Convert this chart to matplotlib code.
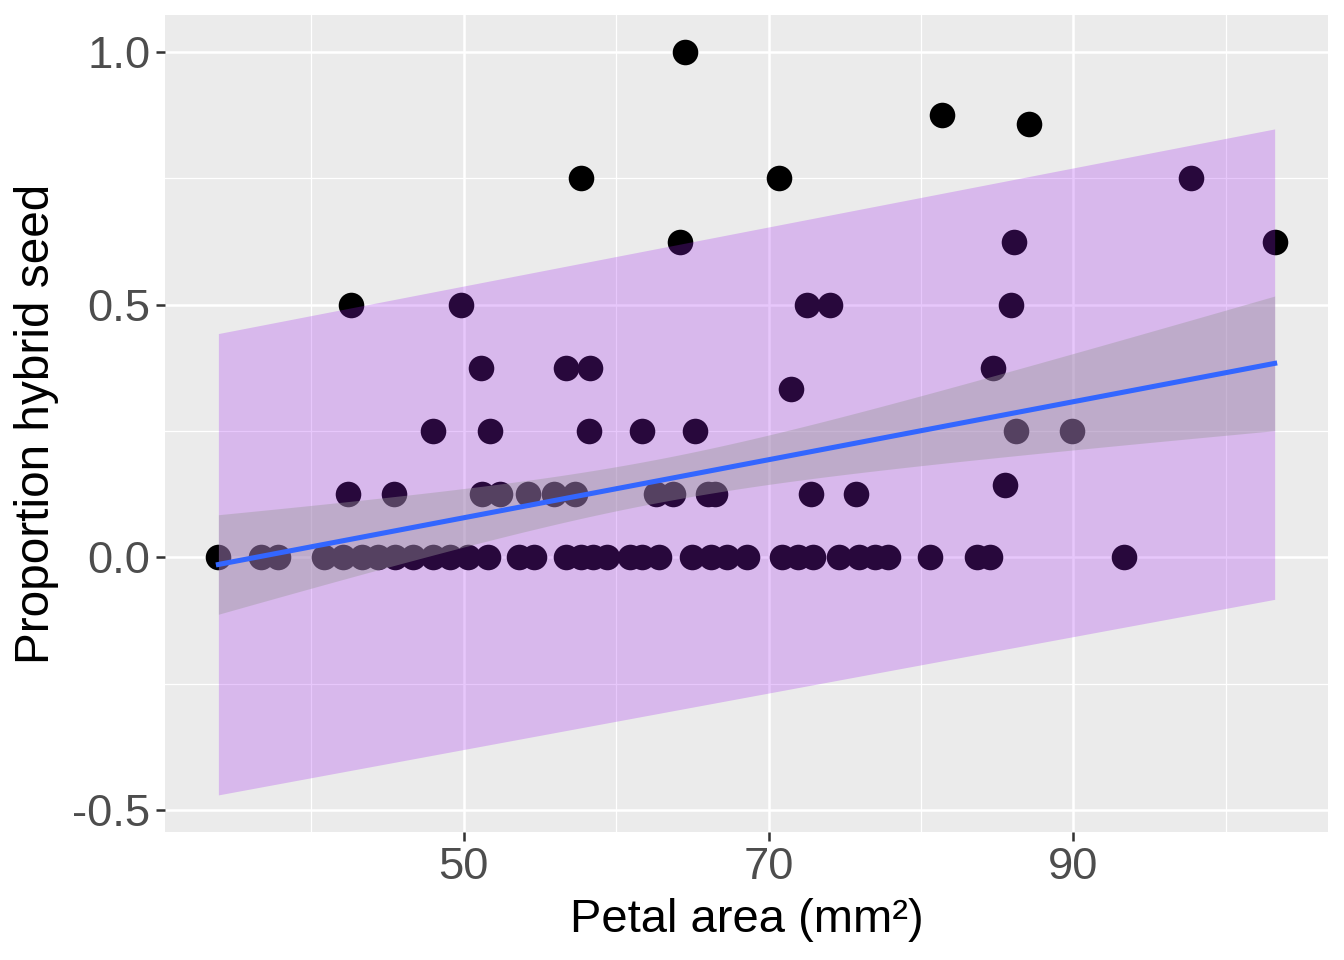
import numpy as np
import matplotlib.pyplot as plt

plt.rcParams['font.family'] = ['Liberation Sans', 'DejaVu Sans']

# petal area (mm2) and proportion hybrid seed, read row by row
area_0 = [33.9, 36.7, 37.8, 40.8, 42.1, 43.3, 44.4, 45.5, 46.7, 48.0, 49.1, 50.3, 51.6,
          53.6, 54.6, 56.7, 57.7, 58.5, 59.4, 60.9, 61.7, 62.8, 65.0, 66.2, 67.3, 68.6,
          70.9, 71.9, 72.9, 74.6, 75.9, 77.0, 77.8, 80.6, 83.7, 84.5, 93.3]
area_125 = [42.4, 45.4, 51.2, 52.4, 54.2, 55.9, 57.3, 62.6, 63.7, 66.0, 66.5, 72.8, 75.7]
area_143 = [85.5]
area_25 = [48.0, 51.7, 58.2, 61.7, 65.2, 86.2, 89.9]
area_333 = [71.5]
area_375 = [51.1, 56.7, 58.3, 84.7]
area_5 = [42.6, 49.8, 72.5, 74.0, 85.9]
area_625 = [64.2, 86.1, 103.2]
area_75 = [57.7, 70.7, 97.7]
area_857 = [87.1]
area_875 = [81.4]
area_1 = [64.5]

rows = [(0.0, area_0), (0.125, area_125), (1/7, area_143), (0.25, area_25),
        (1/3, area_333), (0.375, area_375), (0.5, area_5), (0.625, area_625),
        (0.75, area_75), (6/7, area_857), (0.875, area_875), (1.0, area_1)]

# prediction band (purple ribbon) at the two ends of the data
band_lower = [-0.470, -0.083]
band_upper = [0.443, 0.848]

# fitted line at the two ends, and its confidence band (half-widths)
fit_y = [-0.014, 0.384]
ci_xmid = 62.5
ci_hw_min = 0.043
ci_hw_left = 0.0985

x = np.array([a for p, r in rows for a in r])
y = np.array([p for p, r in rows for a in r])

x0, x1 = x.min(), x.max()
xs = np.linspace(x0, x1, 100)
fit = np.interp(xs, [x0, x1], fit_y)
c = (ci_hw_left ** 2 - ci_hw_min ** 2) / (ci_xmid - x0) ** 2
hw = np.sqrt(ci_hw_min ** 2 + c * (xs - ci_xmid) ** 2)

fig, ax = plt.subplots(figsize=(7, 5), dpi=192)
fig.subplots_adjust(left=0.1228, right=0.9881, top=0.9844, bottom=0.1333)
ax.set_facecolor('#ebebeb')
ax.set_axisbelow(True)

ax.scatter(x, y, s=92, color='black', linewidths=0, zorder=2)
ax.fill_between([x0, x1], band_lower, band_upper, color='#a020f0', alpha=0.25,
                linewidth=0, zorder=3)
ax.fill_between(xs, fit - hw, fit + hw, color='#999999', alpha=0.4, linewidth=0, zorder=4)
ax.plot(xs, fit, color='#3366ff', linewidth=1.9, zorder=5)

ax.set_xlim(30.4, 106.7)
ax.set_ylim(-0.5435, 1.0735)
ax.set_xticks([50, 70, 90])
ax.set_xticks([40, 60, 80, 100], minor=True)
ax.set_yticks([-0.5, 0.0, 0.5, 1.0])
ax.set_yticklabels(['-0.5', '0.0', '0.5', '1.0'])
ax.set_yticks([-0.25, 0.25, 0.75], minor=True)
ax.grid(which='major', color='white', linewidth=0.95)
ax.grid(which='minor', color='white', linewidth=0.47)
for sp in ax.spines.values():
    sp.set_visible(False)
ax.tick_params(which='major', length=3.5, width=0.95, color='#333333', labelsize=17,
               labelcolor='#4d4d4d', pad=2)
ax.tick_params(which='minor', length=0)

ax.set_xlabel('Petal area (mm²)', fontsize=17.7, labelpad=4)
ax.set_ylabel('Proportion hybrid seed', fontsize=17.9, labelpad=5)

plt.savefig('out.png')
